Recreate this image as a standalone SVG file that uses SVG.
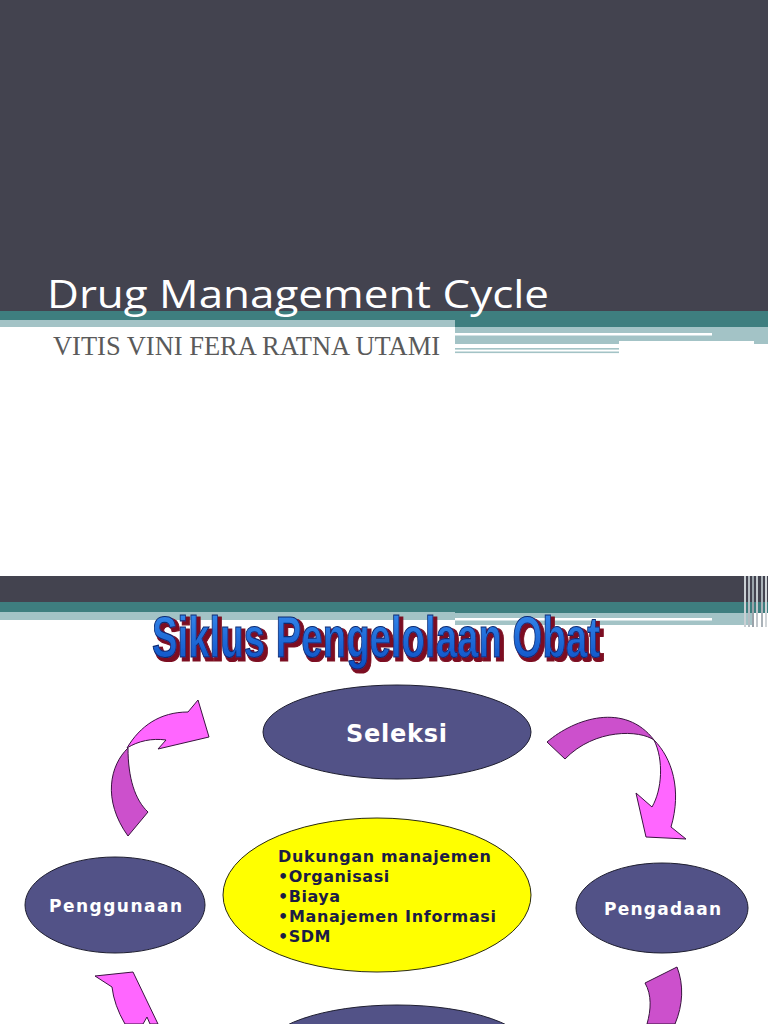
<svg xmlns="http://www.w3.org/2000/svg" width="768" height="1024" viewBox="0 0 768 1024">
<defs>
<style>
.dark{fill:#43434f}
.teal{fill:#3e7e7f}
.lt{fill:#a3c3c6}
.wl{fill:#ffffff}
.node{fill:#525287;stroke:#1e1e30;stroke-width:1}
.lbl{font-family:"DejaVu Sans",Verdana,sans-serif;font-weight:bold;fill:#ffffff}
.ytxt{font-family:"DejaVu Sans",Verdana,sans-serif;font-weight:bold;font-size:16px;fill:#1c1c45}
.arL{fill:#ff66ff;stroke:#3a1440;stroke-width:1}
.arD{fill:#cc50cc;stroke:#3a1440;stroke-width:1}
</style>
<linearGradient id="blue" x1="0" y1="0" x2="0" y2="1">
<stop offset="0" stop-color="#3a8ef0"/>
<stop offset="1" stop-color="#0a4cc2"/>
</linearGradient>
<filter id="sh" x="-5%" y="-25%" width="115%" height="170%">
<feMorphology in="SourceAlpha" operator="dilate" radius="0.8" result="d"/>
<feOffset in="d" dx="3" dy="2" result="o"/>
<feFlood flood-color="#7c1020"/>
<feComposite in2="o" operator="in" result="s"/>
<feMerge><feMergeNode in="s"/><feMergeNode in="SourceGraphic"/></feMerge>
</filter>
</defs>
<rect x="0" y="0" width="768" height="1024" fill="#ffffff"/>

<!-- Slide 1 header -->
<g id="slide1-bands">
<rect class="dark" x="0" y="0" width="768" height="311"/>
<rect class="teal" x="0" y="311" width="768" height="16"/>
<rect class="lt" x="0" y="320" width="455" height="7"/>
<rect class="lt" x="455" y="327" width="313" height="17"/>
<rect class="wl" x="455" y="333" width="257" height="2.5"/>
<rect class="wl" x="619" y="341" width="135" height="3"/>
<rect class="wl" x="619" y="344" width="149" height="4"/>
<rect class="lt" x="455" y="348" width="164" height="1.6"/>
<rect class="lt" x="455" y="351.5" width="164" height="1.6"/>
</g>
<text x="47" y="308" font-family="'Open Sans',Lato,sans-serif" font-size="39" fill="#ffffff" textLength="502" lengthAdjust="spacingAndGlyphs">Drug Management Cycle</text>
<text x="53" y="355" font-family="'Liberation Serif','Times New Roman',serif" font-size="27" fill="#5a5a5a" textLength="387" lengthAdjust="spacingAndGlyphs">VITIS VINI FERA RATNA UTAMI</text>

<!-- Slide 2 header -->
<g id="slide2-bands">
<rect class="dark" x="0" y="576" width="768" height="26"/>
<rect class="teal" x="0" y="602" width="768" height="11"/>
<rect class="lt" x="0" y="612" width="455" height="8"/>
<rect class="lt" x="455" y="613" width="298" height="12"/>
<rect class="wl" x="455" y="618" width="257" height="2.5"/>
<rect x="744" y="576" width="2" height="51" fill="#c9cfd3"/>
<rect x="748" y="576" width="2" height="51" fill="#b5bcc2"/>
<rect x="752" y="576" width="2" height="51" fill="#9aa3aa"/>
<rect x="756" y="576" width="2" height="51" fill="#c0c6cb"/>
<rect x="761" y="576" width="2" height="51" fill="#aab2b8"/>
<rect x="765" y="576" width="2" height="51" fill="#d0d5d8"/>
</g>
<g id="title2">
<text transform="translate(152,657) scale(1,1.45)" x="0" y="0" font-family="'Liberation Sans Narrow','Liberation Sans',Arial,sans-serif" font-weight="bold" font-size="40" fill="url(#blue)" stroke="#0e2a70" stroke-width="0.8" filter="url(#sh)" textLength="448" lengthAdjust="spacingAndGlyphs">Siklus Pengelolaan Obat</text>
</g>

<!-- Connectors (curved block arrows) -->
<g id="connectors">
<path class="arD" d="M128,748 C110,765 102,800 128,836 L148,812 C135,800 128,778 128,748 Z"/>
<path class="arL" d="M127,748 C140,726 160,712 188,712 L198,700 L209,737 L158,749 L166,740 C152,738 138,741 127,748 Z"/>
<path class="arD" d="M547,742 C575,718 625,702 654,740 C640,730 595,728 565,759 Z"/>
<path class="arL" d="M654,740 C672,758 682,790 671,827 L686,839 L646,837 L636,793 L652,807 C662,790 664,760 654,740 Z"/>
<path class="arL" d="M95,976 L133,972 L158,1024 L150,1024 L147,1017 L143,1024 L125,1024 Q114,1005 112,987 Z"/>
<path class="arD" d="M645,983 L677,967 C684,985 683,1005 675,1024 L647,1024 C651,1010 652,995 645,983 Z"/>
</g>

<!-- Nodes -->
<g id="node-seleksi">
<ellipse class="node" cx="397" cy="732" rx="134" ry="47"/>
<text class="lbl" x="346" y="742" font-size="24" textLength="101" lengthAdjust="spacing">Seleksi</text>
</g>
<g id="node-penggunaan">
<ellipse class="node" cx="115" cy="905" rx="90" ry="48"/>
<text class="lbl" x="49" y="912" font-size="17" textLength="133" lengthAdjust="spacing">Penggunaan</text>
</g>
<g id="node-pengadaan">
<ellipse class="node" cx="662" cy="908" rx="86" ry="45"/>
<text class="lbl" x="604" y="915" font-size="17" textLength="117" lengthAdjust="spacing">Pengadaan</text>
</g>
<g id="node-dukungan">
<ellipse cx="377" cy="895" rx="154" ry="77" fill="#ffff00" stroke="#2a2a10" stroke-width="1"/>
<text class="ytxt" x="278" y="862" textLength="213" lengthAdjust="spacing">Dukungan manajemen</text>
<text class="ytxt" x="278" y="882" letter-spacing="0.5">•Organisasi</text>
<text class="ytxt" x="278" y="902" letter-spacing="0.5">•Biaya</text>
<text class="ytxt" x="278" y="922" textLength="218" lengthAdjust="spacing">•Manajemen Informasi</text>
<text class="ytxt" x="278" y="942" letter-spacing="0.5">•SDM</text>
</g>
<g id="node-bottom">
<ellipse class="node" cx="397" cy="1052" rx="134" ry="47"/>
</g>
</svg>
